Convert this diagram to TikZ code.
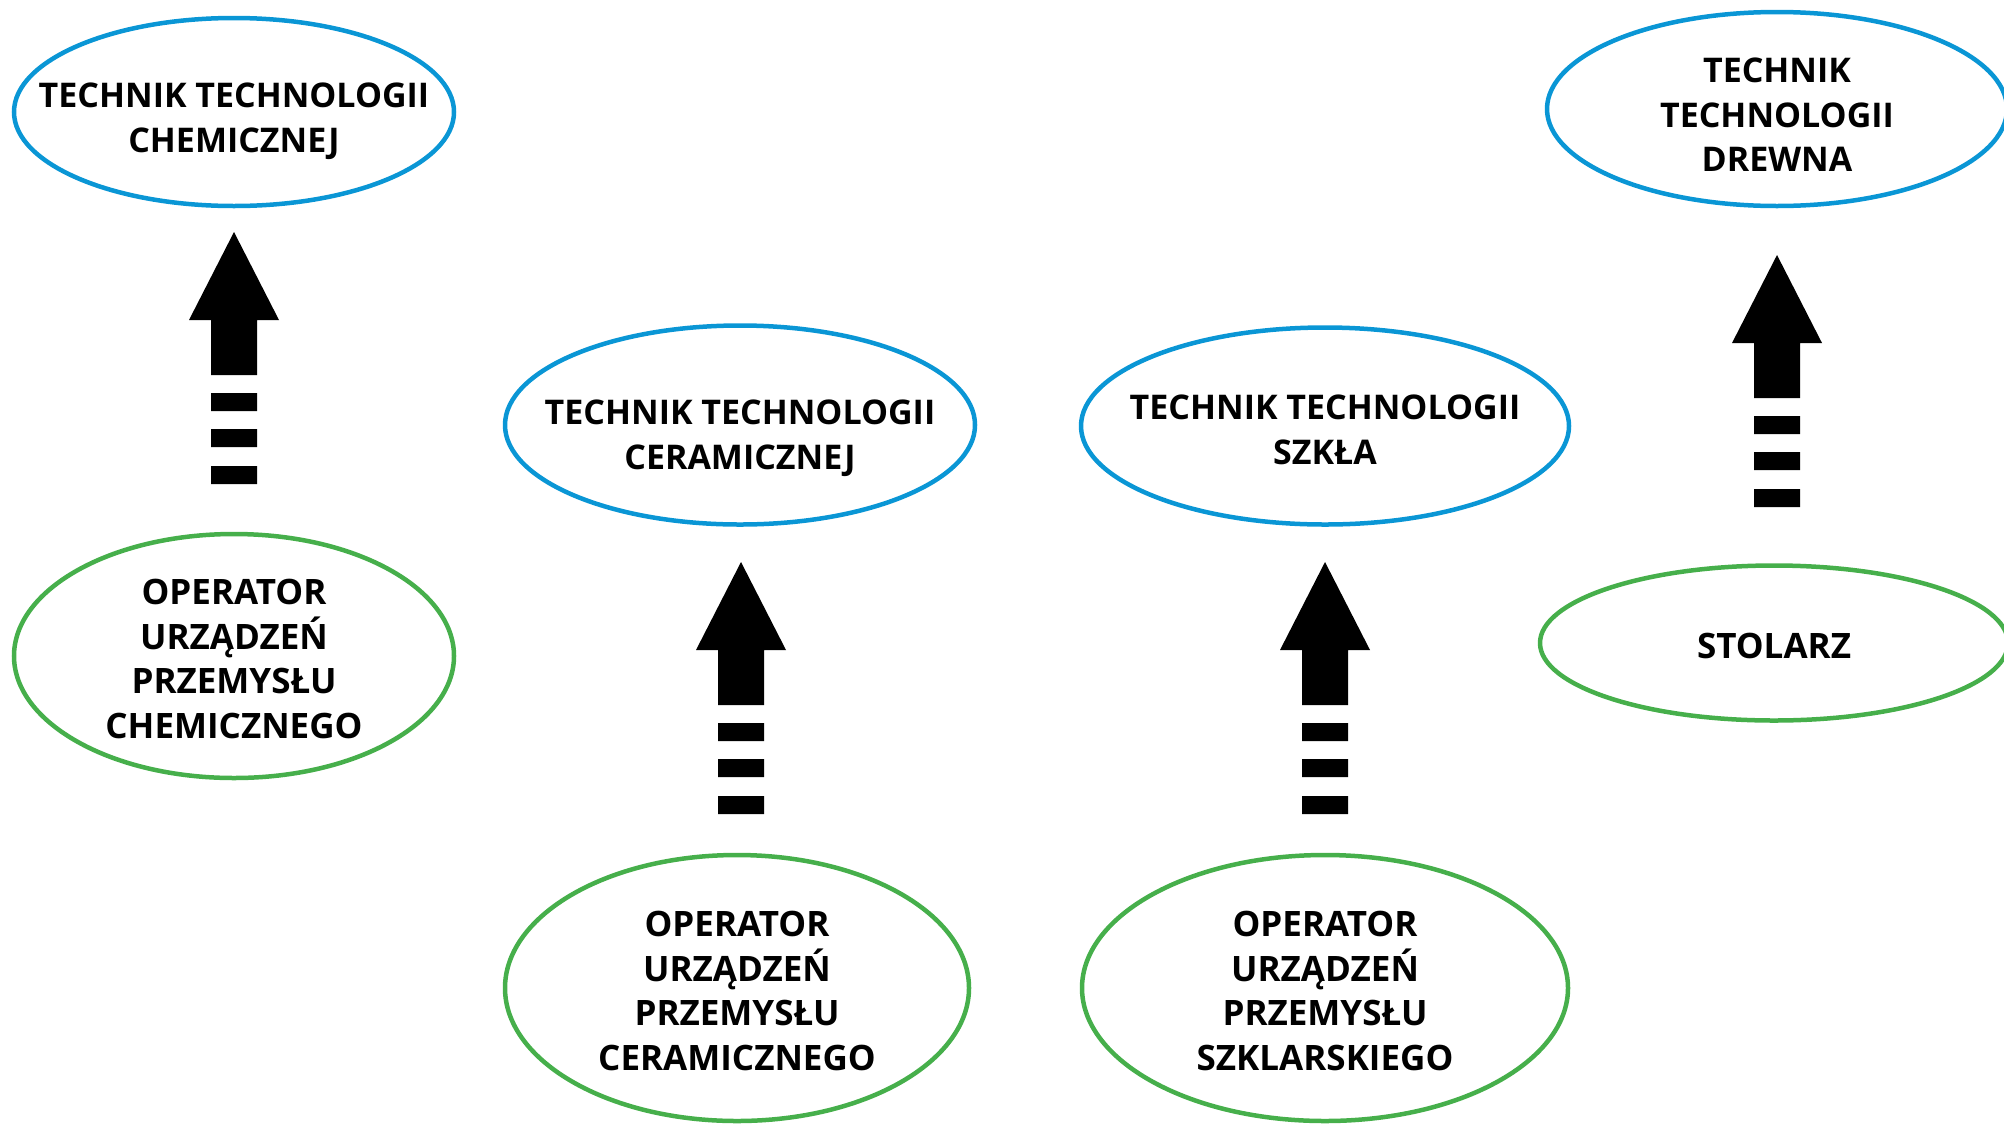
\documentclass[tikz,border=0pt]{standalone}
\usepackage{fontspec}
\setmainfont{Open Sans}
\usetikzlibrary{shapes.geometric}
\definecolor{cblue}{HTML}{0A96D5}
\definecolor{cgreen}{HTML}{46AF4B}
\newcommand\blockarrow[1]{%
  \fill[black,shift={(#1)}] (0,0) -- (45,88) -- (23,88) -- (23,143) -- (-23,143) -- (-23,88) -- (-45,88) -- cycle;
  \fill[black,shift={(#1)}] (-23,161) rectangle (23,179) (-23,197) rectangle (23,215) (-23,234) rectangle (23,252);}
\begin{document}
\begin{tikzpicture}[x=1pt,y=-1pt,
  labt/.style={font=\fontsize{34}{44.5}\selectfont\bfseries, align=center, text=black, inner sep=0pt},
  labo/.style={font=\fontsize{35}{44.5}\selectfont\bfseries, align=center, text=black, inner sep=0pt},
  ell/.style={ellipse, line width=4.5pt, inner sep=0pt, outer sep=0pt},
  blueell/.style={ell, draw=cblue},
  greenell/.style={ell, draw=cgreen}]
\path[use as bounding box] (0,0) rectangle (2004,1125);
% top row (blue)
\node[blueell, minimum width=440pt, minimum height=188pt,
  label={[labt, yshift=-9pt]center:TECHNIK TECHNOLOGII\\CHEMICZNEJ}] (t1) at (234,112) {};
\node[blueell, minimum width=470pt, minimum height=199pt,
  label={[labt, yshift=-13pt]center:TECHNIK TECHNOLOGII\\CERAMICZNEJ}] (t2) at (740,425) {};
\node[blueell, minimum width=488pt, minimum height=197pt,
  label={[labt, yshift=-4pt]center:TECHNIK TECHNOLOGII\\SZKŁA}] (t3) at (1325,426) {};
\node[blueell, minimum width=460pt, minimum height=194pt,
  label={[labt, yshift=-6pt]center:TECHNIK\\TECHNOLOGII\\DREWNA}] (t4) at (1777,109) {};
% bottom row (green)
\node[greenell, minimum width=440pt, minimum height=244pt,
  label={[labo, yshift=-3pt]center:OPERATOR\\URZĄDZEŃ\\PRZEMYSŁU\\CHEMICZNEGO}] (o1) at (234,656) {};
\node[greenell, minimum width=464pt, minimum height=266pt,
  label={[labo, yshift=-3pt]center:OPERATOR\\URZĄDZEŃ\\PRZEMYSŁU\\CERAMICZNEGO}] (o2) at (737,988) {};
\node[greenell, minimum width=486pt, minimum height=266pt,
  label={[labo, yshift=-3pt]center:OPERATOR\\URZĄDZEŃ\\PRZEMYSŁU\\SZKLARSKIEGO}] (o3) at (1325,988) {};
\node[greenell, minimum width=468pt, minimum height=155pt,
  label={[labo, yshift=-3pt]center:STOLARZ}] (o4) at (1774,643) {};
% arrows (from operator level up to technician level)
\coordinate (a1) at (234,232);
\coordinate (a2) at (741,562);
\coordinate (a3) at (1325,562);
\coordinate (a4) at (1777,255);
\blockarrow{a1}
\blockarrow{a2}
\blockarrow{a3}
\blockarrow{a4}
\end{tikzpicture}
\end{document}
